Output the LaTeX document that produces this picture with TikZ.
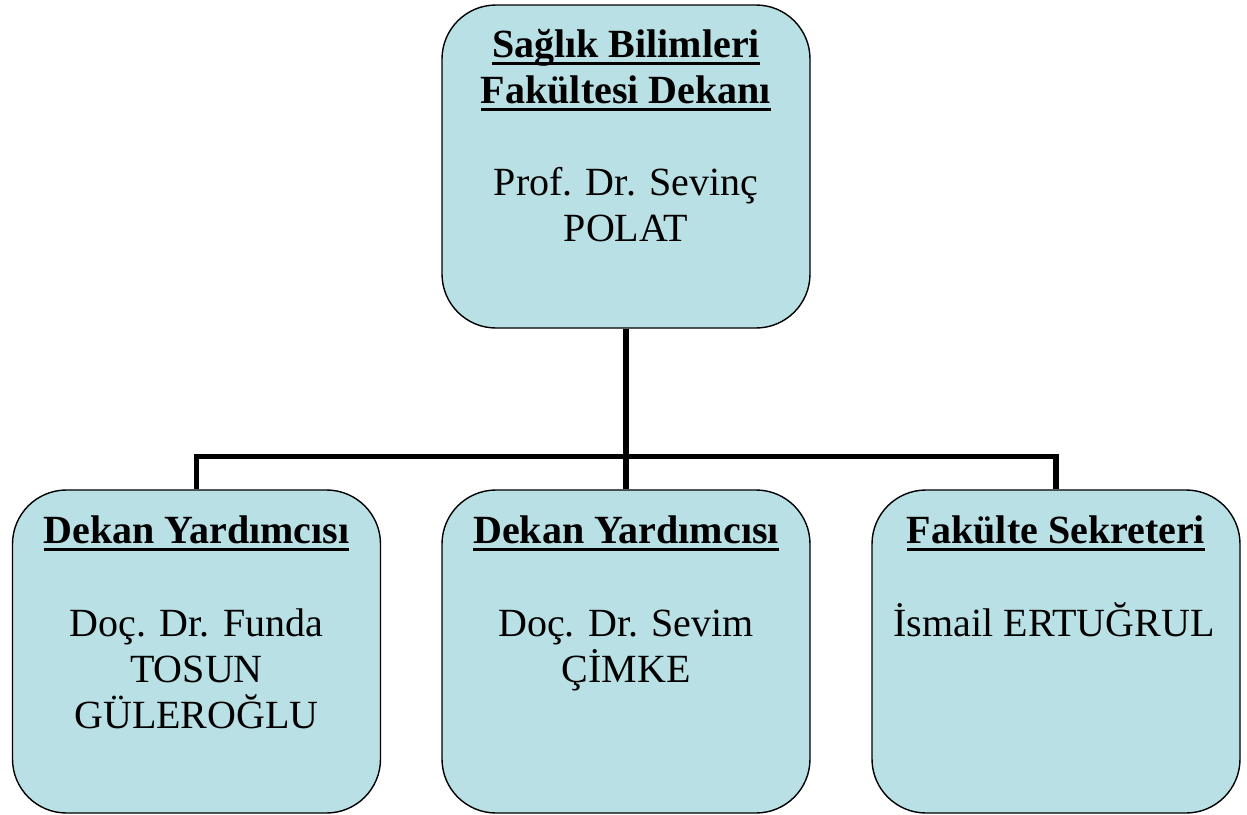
\documentclass[tikz,border=0pt]{standalone}
\usepackage{fontspec}
\setmainfont{Liberation Serif}
\usetikzlibrary{backgrounds}
\definecolor{boxfill}{RGB}{185,224,228}
\newcommand\ulline[1]{\setbox0\hbox{#1}\rlap{\rule[-7.5pt]{\wd0}{3.5pt}}\box0}
\begin{document}
\begin{tikzpicture}[x=1pt,y=-1pt,
  orgbox/.style={draw=black, line width=1.4pt, fill=boxfill, rounded corners=54pt,
    minimum width=368pt, minimum height=323pt, inner sep=0pt},
  title/.style={anchor=base, inner sep=0pt, font=\fontsize{40}{46}\selectfont\bfseries},
  body/.style={anchor=base, inner sep=0pt, font=\fontsize{40}{46}\selectfont},
  conn/.style={draw=black, line width=5.5pt, line join=miter}]
\useasboundingbox (0,0) rectangle (1247,814);

% boxes
\node[orgbox] (dean) at (626,166.5) {};
\node[orgbox] (dy1) at (196.5,651.5) {};
\node[orgbox] (dy2) at (626,651.5) {};
\node[orgbox] (sek) at (1056,651.5) {};

% connectors
\coordinate (bus) at (626,456.5);
\begin{scope}[on background layer]
\fill[white] (0,0) rectangle (1247,814);
\draw[conn] (dean.south) -- (dy2.north);
\draw[conn] (dy1.north) |- (bus) -| (sek.north);
\end{scope}

% dean text
\node[title] (d1) at (626,57.7) {\ulline{Sağlık Bilimleri}};
\node[title] (d2) at (626,103.7) {\ulline{Fakültesi Dekanı}};
\node[body] (d3) at (626,195.7) {Prof. Dr. Sevinç};
\node[body] (d4) at (626,241.7) {POLAT};

% left
\node[title] (a1) at (196.5,543.5) {\ulline{Dekan Yardımcısı}};
\node[body] (a2) at (196.5,636) {Doç. Dr. Funda};
\node[body] (a3) at (196.5,682) {TOSUN};
\node[body] (a4) at (196.5,728) {GÜLEROĞLU};

% middle
\node[title] (b1) at (626,543.5) {\ulline{Dekan Yardımcısı}};
\node[body] (b2) at (626,636) {Doç. Dr. Sevim};
\node[body] (b3) at (626,682) {ÇİMKE};

% right
\node[title] (c1) at (1056,543.5) {\ulline{Fakülte Sekreteri}};
\node[body] (c2) at (1054,636) {İsmail ERTUĞRUL};
\end{tikzpicture}
\end{document}
